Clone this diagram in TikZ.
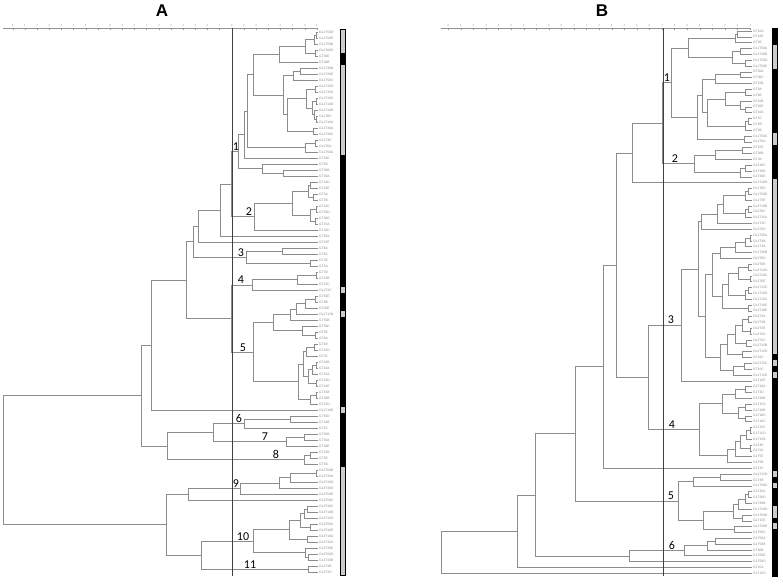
\documentclass[tikz,border=0pt]{standalone}
\usepackage{fontspec}
\setmainfont{Liberation Sans}
\newfontfamily\clfont{Carlito}
\usetikzlibrary{calc}

\colorlet{ol}{gray!40}
\colorlet{gt}{black}
\tikzset{
	br/.style={draw=gray!90, line width=0.45pt},
	leaf/.style={anchor=west, inner xsep=1.5pt, inner ysep=0pt, text=gray!95, font=\fontsize{3.3}{3.6}\selectfont},
	clab/.style={anchor=south, inner sep=0pt, yshift=0.6pt, font=\clfont\fontsize{12}{12}\selectfont},
	ttl/.style={inner sep=0pt, font=\fontsize{17}{17}\selectfont\bfseries},
	refline/.style={draw=black!75, line width=0.6pt},
	ruler/.style={draw=gray!85, line width=0.4pt},
	ticklab/.style={inner sep=0pt, text=gray, font=\fontsize{2.6}{3}\selectfont},
}
% nhánh: #1 tên, #2 hoành độ, #3 #4 hai con
\newcommand{\cl}[4]{%
	\path let \p1=(#3), \p2=(#4) in (#2pt,{0.5*\y1+0.5*\y2}) coordinate (#1);
	\draw[br] (#1) |- (#3) (#1) |- (#4);}

\begin{document}
\begin{tikzpicture}[x=1pt,y=-1pt]
	\useasboundingbox (0,0) rectangle (783,583);
	
	% --- Tiêu đề ---
	\node[ttl] (tA) at (162,11) {A};
	\node[ttl] (tB) at (602,11) {B};
	
	% --- Thước A ---
	\draw[ruler] (3,28.5) -- (317,28.5);
	\foreach \k in {0,...,25} {
		\pgfmathtruncatemacro\t{mod(\k,10)}
		\draw[ruler] ({12.7+12.17*\k},27.6) -- ++(0,2); % vạch chia
		\node[ticklab] at ({12.7+12.17*\k},25.4) {\t};
	}
	% --- Thước B ---
	\draw[ruler] (441,28.5) -- (751,28.5);
	\foreach \k in {0,...,24} {
		\pgfmathtruncatemacro\t{mod(\k,10)}
		\draw[ruler] ({448.3+12.57*\k},27.6) -- ++(0,2);
		\node[ticklab] at ({448.3+12.57*\k},25.4) {\t};
	}
	
	% --- Lá A và cột màu ---
	\foreach \lab/\c [count=\i] in {OL1T50D/ol,OL1T50E/ol,OL1T50B/ol,OL1T60D/ol,GT30E/gt,GT30B/gt,OL1T30B/ol,OL1T30E/ol,OL1T50C/ol,OL1T15D/ol,
		OL1T15A/ol,OL1T10C/ol,OL1T10D/ol,OL1T10B/ol,OL1T6C/ol,OL1T10A/ol,OL1T30A/ol,OL1T30C/ol,OL1T3E/ol,OL1T6A/ol,
		OL1T50A/ol,GT50C/gt,GT5D/gt,GT30B/gt,GT30A/gt,GT10D/gt,GT10E/gt,GT3A/gt,GT3B/gt,GT10C/gt,
		GT50D/gt,GT30D/gt,GT15A/gt,GT30C/gt,GT50A/gt,GT15E/gt,GT6A/gt,GT6C/gt,GT3E/gt,GT5A/gt,
		GT3D/gt,GT15B/gt,GT15C/gt,OL1T3C/ol,GT50E/gt,GT6B/gt,GT30E/gt,OL1T15B/ol,GT50B/gt,GT50C/gt,
		GT5E/gt,GT6A/gt,GT6D/gt,GT15D/gt,GT3C/gt,GT10B/gt,GT10A/gt,GT15A/gt,GT10D/gt,GT10E/gt,
		GT15B/gt,GT30B/gt,GT15D/gt,OL1T10E/ol,GT50D/gt,GT10B/gt,GT5C/gt,GT50B/gt,GT30A/gt,GT50E/gt,
		GT15B/gt,GT5E/gt,GT5B/gt,OL3T50B/ol,OL3T30A/ol,OL3T10D/ol,OL3T30D/ol,OL3T50E/ol,OL3T50C/ol,OL3T10C/ol,
		OL3T10B/ol,OL3T15D/ol,OL3T50A/ol,OL3T10E/ol,OL3T10A/ol,OL3T15A/ol,OL3T30E/ol,OL3T50D/ol,OL3T30B/ol,OL3T3B/ol,
		OL3T3D/ol} {
		\node[leaf] (a\i) at (317.5,{32+6*(\i-1)}) {\lab};
		\fill[fill=\c] (340,{28.9+6*(\i-1)}) rectangle (345,{35.1+6*(\i-1)});
	}
	\draw[line width=0.3pt] (340,29) rectangle (345,575);
	
	% --- Lá B và cột màu ---
	\foreach \lab/\c [count=\i] in {GT10D/gt,GT10E/gt,GT3E/gt,OL1T50A/ol,OL1T30B/ol,OL1T50D/ol,OL1T50E/ol,GT50A/gt,GT30C/gt,GT15B/gt,
		GT6A/gt,GT6E/gt,GT10B/gt,GT30E/gt,GT10A/gt,GT3C/gt,GT6B/gt,GT3B/gt,OL1T50C/ol,OL1T6A/ol,
		GT15E/gt,GT30B/gt,GT3A/gt,G1T30C/gt,G1T30B/gt,G1T30E/gt,OL1T10D/ol,OL1T6D/ol,OL1T50E/ol,OL1T3E/ol,
		OL2T10B/ol,OL2T6C/ol,OL2T15A/ol,OL1T3C/ol,OL2T3D/ol,OL1T30A/ol,OL1T3B/ol,OL1T3A/ol,OL1T30B/ol,OL2T6D/ol,
		OL2T6B/ol,OL2T10D/ol,OL2T10C/ol,OL2T6E/ol,OL1T15C/ol,OL1T15D/ol,OL1T15A/ol,OL1T10C/ol,OL2T10E/ol,OL2T3A/ol,
		OL2T3B/ol,OL2T3E/ol,OL2T6A/ol,OL2T3C/ol,OL2T15B/ol,OL2T15D/ol,GT10C/gt,OL2T15C/ol,GT15C/gt,OL1T15E/ol,
		G1T10E/gt,G1T10A/gt,G1T3D/gt,G1T30B/gt,G1T15A/gt,G1T10B/gt,G1T10D/gt,G1T10C/gt,G1T15C/gt,G1T15D/gt,
		G1T15B/gt,G1T3E/gt,G1T3A/gt,G1T5E/gt,G1T5B/gt,G1T3C/gt,OL1T15D/ol,G1T3B/gt,OL1T50C/ol,G1T30A/gt,
		G1T30D/gt,G1T30B/gt,OL1T50D/ol,OL1T50B/ol,G1T15E/gt,OL1T30E/ol,G1T50C/gt,G1T50A/gt,G1T50B/gt,GT60B/gt,
		G1T50E/gt,G1T50D/gt,GT15A/gt,G1T15D/gt} {
		\node[leaf] (b\i) at (751.5,{31+5.83*(\i-1)}) {\lab};
		\fill[fill=\c] (772,{27.9+5.83*(\i-1)}) rectangle (777,{34.1+5.83*(\i-1)});
	}
	\draw[line width=0.3pt] (772,28.1) rectangle (777,576.2);
	
	% --- Cây A ---
	\cl{a1x2}{316}{a1}{a2} \cl{a1x3}{314}{a1x2}{a3} \cl{a4x5}{315}{a4}{a5}
	\cl{a1x5}{305}{a1x3}{a4x5} \cl{a1x6}{279}{a1x5}{a6}
	\cl{a7x8}{300}{a7}{a8} \cl{a7x9}{293}{a7x8}{a9}
	\cl{a10x11}{315}{a10}{a11} \cl{a12x13}{316}{a12}{a13} \cl{a15x16}{316}{a15}{a16}
	\cl{a14x16}{314}{a14}{a15x16} \cl{a12x16}{312}{a12x13}{a14x16} \cl{a10x16}{306}{a10x11}{a12x16}
	\cl{a17x18}{313}{a17}{a18} \cl{a10x18}{287}{a10x16}{a17x18} \cl{a7x18}{283}{a7x9}{a10x18}
	\cl{a1x18}{253}{a1x6}{a7x18}
	\cl{a19x20}{315}{a19}{a20} \cl{a19x21}{305}{a19x20}{a21}
	\cl{a1x21}{247}{a1x18}{a19x21} \cl{a1x22}{244}{a1x21}{a22}
	\cl{a24x25}{283}{a24}{a25} \cl{a23x25}{262}{a23}{a24x25}
	\cl{a1x25}{238}{a1x22}{a23x25}
	\cl{a26x27}{310}{a26}{a27} \cl{a28x29}{313}{a28}{a29} \cl{a26x29}{308}{a26x27}{a28x29}
	\cl{a30x31}{316}{a30}{a31} \cl{a32x33}{315}{a32}{a33} \cl{a30x33}{310}{a30x31}{a32x33}
	\cl{a26x33}{292}{a26x29}{a30x33} \cl{a26x34}{254}{a26x33}{a34}
	\cl{a1x34}{231}{a1x25}{a26x34} \cl{a1x35}{220}{a1x34}{a35} \cl{a1x36}{198}{a1x35}{a36}
	\cl{a37x38}{282}{a37}{a38} \cl{a39x40}{310}{a39}{a40} \cl{a37x40}{246}{a37x38}{a39x40}
	\cl{a1x40}{193}{a1x36}{a37x40}
	\cl{a41x42}{316}{a41}{a42} \cl{a41x43}{297}{a41x42}{a43} \cl{a41x44}{252}{a41x43}{a44}
	\cl{a45x46}{315}{a45}{a46} \cl{a45x47}{305}{a45x46}{a47} \cl{a45x48}{296}{a45x47}{a48}
	\cl{a45x49}{290}{a45x48}{a49} \cl{a51x52}{315}{a51}{a52} \cl{a50x52}{302}{a50}{a51x52}
	\cl{a45x52}{273}{a45x49}{a50x52}
	\cl{a53x54}{314}{a53}{a54} \cl{a53x55}{306}{a53x54}{a55} \cl{a56x57}{316}{a56}{a57}
	\cl{a56x58}{312}{a56x57}{a58} \cl{a59x60}{316}{a59}{a60} \cl{a56x60}{308}{a56x58}{a59x60}
	\cl{a53x60}{303}{a53x55}{a56x60} \cl{a61x62}{316}{a61}{a62} \cl{a61x63}{310}{a61x62}{a63}
	\cl{a53x63}{298}{a53x60}{a61x63} \cl{a45x63}{253}{a45x52}{a53x63}
	\cl{a41x63}{231}{a41x44}{a45x63} \cl{a1x63}{186}{a1x40}{a41x63} \cl{a1x64}{151}{a1x63}{a64}
	\cl{a65x66}{290}{a65}{a66} \cl{a65x67}{244}{a65x66}{a67}
	\cl{a68x69}{304}{a68}{a69} \cl{a68x70}{286}{a68x69}{a70} \cl{a65x70}{213}{a65x67}{a68x70}
	\cl{a71x72}{310}{a71}{a72} \cl{a71x73}{304}{a71x72}{a73} \cl{a65x73}{167}{a65x70}{a71x73}
	\cl{a1x73}{141}{a1x64}{a65x73}
	\cl{a74x75}{316}{a74}{a75} \cl{a74x76}{290}{a74x75}{a76} \cl{a74x77}{279}{a74x76}{a77}
	\cl{a74x78}{240}{a74x77}{a78} \cl{a74x79}{188}{a74x78}{a79}
	\cl{a80x81}{307}{a80}{a81} \cl{a80x82}{304}{a80x81}{a82} \cl{a83x84}{310}{a83}{a84}
	\cl{a80x84}{300}{a80x82}{a83x84} \cl{a85x86}{307}{a85}{a86} \cl{a80x86}{289}{a80x84}{a85x86}
	\cl{a88x89}{308}{a88}{a89} \cl{a87x89}{305}{a87}{a88x89} \cl{a80x89}{253}{a80x86}{a87x89}
	\cl{a90x91}{308}{a90}{a91} \cl{a80x91}{201}{a80x89}{a90x91}
	\cl{a74x91}{166}{a74x79}{a80x91}
	\cl{a1x91}{3.3}{a1x73}{a74x91}
	
	% --- Cây B ---
	\cl{b1x2}{737}{b1}{b2} \cl{b1x3}{735}{b1x2}{b3} \cl{b4x5}{740}{b4}{b5} \cl{b6x7}{745}{b6}{b7}
	\cl{b4x7}{732}{b4x5}{b6x7} \cl{b1x7}{688}{b1x3}{b4x7}
	\cl{b8x9}{740}{b8}{b9} \cl{b8x10}{715}{b8x9}{b10} \cl{b11x12}{745}{b11}{b12}
	\cl{b14x15}{745}{b14}{b15} \cl{b13x15}{740}{b13}{b14x15} \cl{b11x15}{725}{b11x12}{b13x15}
	\cl{b16x17}{748}{b16}{b17} \cl{b16x18}{745}{b16x17}{b18} \cl{b11x18}{707}{b11x15}{b16x18}
	\cl{b8x18}{702}{b8x10}{b11x18} \cl{b19x20}{744}{b19}{b20} \cl{b8x20}{697}{b8x18}{b19x20}
	\cl{b1x20}{671}{b1x7}{b8x20}
	\cl{b21x22}{742}{b21}{b22} \cl{b21x23}{715}{b21x22}{b23} \cl{b24x25}{745}{b24}{b25}
	\cl{b24x26}{740}{b24x25}{b26} \cl{b21x26}{694}{b21x23}{b24x26}
	\cl{b1x26}{662}{b1x20}{b21x26} \cl{b1x27}{632}{b1x26}{b27}
	\cl{b28x29}{748}{b28}{b29} \cl{b28x30}{745}{b28x29}{b30} \cl{b31x32}{748}{b31}{b32}
	\cl{b31x33}{745}{b31x32}{b33} \cl{b28x33}{723}{b28x30}{b31x33} \cl{b28x34}{717}{b28x33}{b34}
	\cl{b28x35}{701}{b28x34}{b35}
	\cl{b36x37}{750}{b36}{b37} \cl{b36x38}{745}{b36x37}{b38} \cl{b36x39}{735}{b36x38}{b39}
	\cl{b36x40}{720}{b36x39}{b40}
	\cl{b41x42}{748}{b41}{b42} \cl{b43x44}{750}{b43}{b44} \cl{b41x44}{738}{b41x42}{b43x44}
	\cl{b45x46}{748}{b45}{b46} \cl{b45x47}{745}{b45x46}{b47} \cl{b41x47}{728}{b41x44}{b45x47}
	\cl{b48x49}{748}{b48}{b49} \cl{b41x49}{722}{b41x47}{b48x49} \cl{b36x49}{712}{b36x40}{b41x49}
	\cl{b50x51}{748}{b50}{b51} \cl{b52x53}{750}{b52}{b53} \cl{b50x53}{742}{b50x51}{b52x53}
	\cl{b54x55}{746}{b54}{b55} \cl{b50x55}{735}{b50x53}{b54x55} \cl{b56x57}{742}{b56}{b57}
	\cl{b50x57}{727}{b50x55}{b56x57} \cl{b58x59}{744}{b58}{b59} \cl{b58x60}{733}{b58x59}{b60}
	\cl{b50x60}{720}{b50x57}{b58x60} \cl{b36x60}{705}{b36x49}{b50x60}
	\cl{b28x60}{698}{b28x35}{b36x60} \cl{b28x61}{681}{b28x60}{b61}
	\cl{b62x63}{745}{b62}{b63} \cl{b62x64}{735}{b62x63}{b64} \cl{b65x66}{745}{b65}{b66}
	\cl{b67x68}{745}{b67}{b68} \cl{b65x68}{738}{b65x66}{b67x68} \cl{b62x68}{722}{b62x64}{b65x68}
	\cl{b69x70}{750}{b69}{b70} \cl{b69x71}{746}{b69x70}{b71} \cl{b72x73}{750}{b72}{b73}
	\cl{b69x73}{740}{b69x71}{b72x73} \cl{b69x74}{735}{b69x73}{b74} \cl{b69x75}{727}{b69x74}{b75}
	\cl{b62x75}{699}{b62x68}{b69x75}
	\cl{b28x75}{648}{b28x61}{b62x75} \cl{b1x75}{616}{b1x27}{b28x75} \cl{b1x76}{603}{b1x75}{b76}
	\cl{b77x78}{720}{b77}{b78} \cl{b77x79}{693}{b77x78}{b79}
	\cl{b80x81}{748}{b80}{b81} \cl{b80x82}{745}{b80x81}{b82} \cl{b80x83}{738}{b80x82}{b83}
	\cl{b84x85}{742}{b84}{b85} \cl{b80x85}{733}{b80x83}{b84x85} \cl{b86x87}{734}{b86}{b87}
	\cl{b80x87}{703}{b80x85}{b86x87} \cl{b77x87}{678}{b77x79}{b80x87}
	\cl{b1x87}{575}{b1x76}{b77x87}
	\cl{b88x89}{715}{b88}{b89} \cl{b88x90}{707}{b88x89}{b90} \cl{b88x91}{684}{b88x90}{b91}
	\cl{b88x92}{629}{b88x91}{b92}
	\cl{b1x92}{535}{b1x87}{b88x92} \cl{b1x93}{517}{b1x92}{b93} \cl{b1x94}{441}{b1x93}{b94}
	
	% --- Đường cắt ---
	\draw[refline] (232,28.5) -- (232,576);
	\draw[refline] (663,28.5) -- (663,576);
	
	% --- Số nhóm A ---
	\node[clab] at (a1x25 -| 236,0) {1};
	\node[clab] at (a26x34 -| 249,0) {2};
	\node[clab] at (a37x40 -| 241,0) {3};
	\node[clab] at (a41x44 -| 241,0) {4};
	\node[clab] at (a45x63 -| 243,0) {5};
	\node[clab] at (a65x67 -| 239,0) {6};
	\node[clab] at (a68x70 -| 265,0) {7};
	\node[clab] at (a71x73 -| 276,0) {8};
	\node[clab] at (a74x78 -| 236,0) {9};
	\node[clab] at (a80x89 -| 243,0) {10};
	\node[clab] at (a90x91 -| 250,0) {11};
	% --- Số nhóm B ---
	\node[clab] at (b1x20 -| 667,0) {1};
	\node[clab] at (b21x26 -| 675,0) {2};
	\node[clab] at (b28x61 -| 671,0) {3};
	\node[clab] at (b62x75 -| 672,0) {4};
	\node[clab] at (b77x87 -| 671,0) {5};
	\node[clab] at (b88x91 -| 672,0) {6};
\end{tikzpicture}
\end{document}
